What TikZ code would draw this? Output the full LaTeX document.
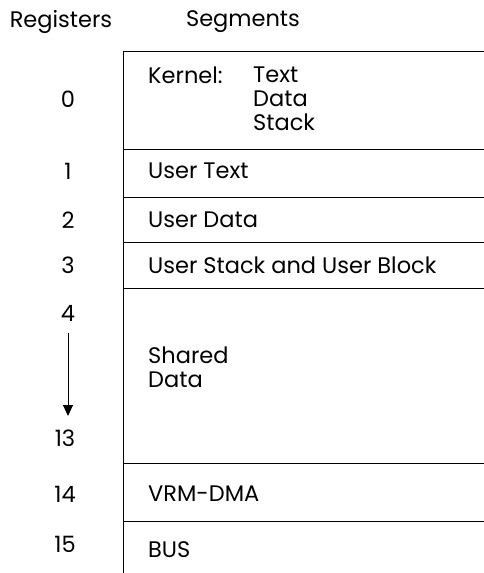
\documentclass[tikz,border=0pt]{standalone}
\usepackage{fontspec}
\setmainfont{Poppins}
\usetikzlibrary{arrows.meta}
\begin{document}
\begin{tikzpicture}[x=1pt,y=-1pt,
  lbl/.style={font=\fontsize{22.5}{26}\selectfont,inner sep=0pt,anchor=west},
  reg/.style={font=\fontsize{22.5}{26}\selectfont,inner sep=0pt},
  seg/.style={line width=0.9pt}]
\useasboundingbox (0,0) rectangle (484,573);
\node[reg] (hreg) at (61,22) {Registers};
\node[reg] (hseg) at (243,22) {Segments};
% box lines
\draw[seg] (484,51) -- (123,51) -- (123,573);
\foreach \y in {149,197,242,288,463,521} \draw[seg] (123,\y) -- (484,\y);
% register numbers
\node[reg] (r0) at (68,99) {0};
\node[reg] (r1) at (68,171) {1};
\node[reg] (r2) at (68,220) {2};
\node[reg] (r3) at (68,265) {3};
\node[reg] (r4) at (68,313) {4};
\node[reg] (r13) at (65,438) {13};
\node[reg] (r14) at (65,494) {14};
\node[reg] (r15) at (65,544) {15};
\coordinate (as) at (68,333);
\coordinate (ae) at (68,416);
\draw[line width=0.9pt,-{Triangle[length=11pt,width=10pt]}] (as) -- (ae);
% segment labels
\node[lbl] (k) at (148,75) {Kernel:};
\node[lbl] (kt) at (253,75) {Text};
\node[lbl] (kd) at (253,99) {Data};
\node[lbl] (ks) at (253,122) {Stack};
\node[lbl] (ut) at (148,171) {User Text};
\node[lbl] (ud) at (148,220) {User Data};
\node[lbl] (us) at (148,265) {User Stack and User Block};
\node[lbl] (sh) at (148,355) {Shared};
\node[lbl] (sd) at (148,380) {Data};
\node[lbl] (vrm) at (148,494) {VRM-DMA};
\node[lbl] (bus) at (148,550) {BUS};
\end{tikzpicture}
\end{document}
